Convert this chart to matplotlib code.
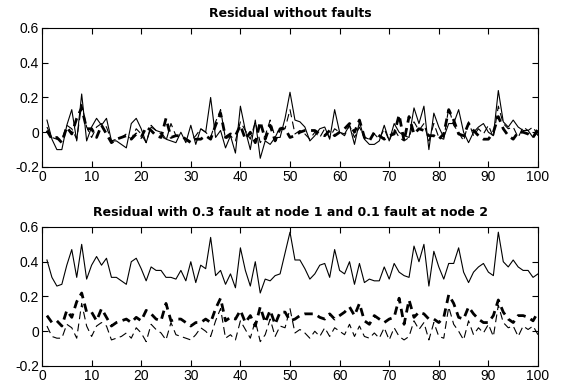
import numpy as np
import matplotlib
matplotlib.use("Agg")
import matplotlib.pyplot as plt
from matplotlib.ticker import FuncFormatter

plt.rcParams['font.family'] = ['Liberation Sans', 'DejaVu Sans']
plt.rcParams['axes.unicode_minus'] = False

x = np.arange(1, 101)

# residuals without faults
r1_ok = [0.07, -0.04, -0.10, -0.10, 0.04, 0.13, -0.05, 0.22, -0.05, 0.03,
         0.08, 0.04, 0.08, -0.05, -0.05, -0.07, -0.09, 0.05, 0.08, 0.02,
         -0.06, 0.03, 0.01, 0.00, -0.04, -0.05, -0.06, 0.00, -0.06, 0.04,
         -0.07, 0.02, 0.00, 0.20, -0.03, 0.01, -0.09, -0.02, -0.12, 0.15,
         0.01, -0.10, 0.07, -0.15, -0.05, -0.07, -0.03, -0.03, 0.08, 0.23,
         0.07, 0.06, 0.03, -0.05, -0.02, 0.02, 0.03, -0.04, 0.13, 0.00,
         -0.01, 0.04, -0.07, 0.06, -0.04, -0.07, -0.07, -0.05, 0.04, -0.05,
         0.05, 0.00, -0.02, -0.03, 0.14, 0.05, 0.15, -0.10, 0.11, 0.03,
         -0.03, 0.05, 0.05, 0.13, 0.00, -0.06, 0.00, 0.03, 0.05, 0.00,
         -0.02, 0.24, 0.06, 0.03, 0.07, 0.03, 0.01, 0.01, -0.03, 0.00]
r2_ok = [0.01, -0.04, -0.03, -0.06, 0.03, -0.01, 0.08, 0.14, 0.02, 0.02,
         -0.03, 0.04, -0.01, -0.06, -0.04, -0.03, -0.02, -0.04, -0.01, -0.03,
         0.03, 0.01, -0.02, -0.03, 0.08, -0.03, -0.02, -0.02, -0.04, -0.06,
         -0.04, -0.04, -0.02, -0.04, 0.04, 0.11, -0.03, -0.01, -0.02, 0.04,
         -0.04, 0.00, -0.06, 0.06, -0.04, 0.04, -0.05, 0.02, 0.02, -0.03,
         -0.02, 0.00, 0.01, 0.01, 0.01, -0.01, -0.02, 0.01, -0.02, 0.00,
         0.02, 0.05, 0.00, 0.07, -0.03, -0.05, 0.00, -0.02, -0.04, -0.02,
         -0.01, 0.10, -0.05, 0.09, -0.01, 0.02, 0.01, -0.02, -0.02, -0.04,
         -0.01, 0.13, 0.07, -0.01, -0.02, 0.05, 0.01, -0.02, -0.04, -0.04,
         0.00, 0.09, 0.02, -0.02, -0.04, 0.00, 0.00, -0.01, -0.03, 0.02]
r3 = [0.03, -0.03, -0.04, -0.04, 0.04, 0.02, -0.04, 0.16, 0.03, -0.03,
      0.03, 0.05, 0.03, -0.05, -0.04, -0.03, -0.01, -0.04, 0.02, -0.01,
      -0.06, 0.04, 0.01, -0.01, -0.05, 0.05, -0.02, -0.03, -0.04, -0.05,
      -0.02, 0.02, 0.00, -0.03, 0.06, 0.13, -0.04, -0.02, -0.05, 0.06,
      0.01, -0.04, 0.06, -0.06, -0.02, 0.07, -0.03, 0.03, 0.02, 0.13,
      -0.01, 0.01, -0.01, -0.04, 0.00, -0.03, 0.02, -0.03, 0.02, 0.00,
      -0.02, 0.04, -0.03, 0.03, -0.03, -0.04, -0.01, -0.04, 0.02, -0.05,
      0.02, -0.03, -0.05, -0.03, 0.06, 0.01, 0.05, -0.05, 0.05, -0.03,
      -0.04, 0.14, 0.04, 0.00, -0.05, 0.06, -0.02, 0.02, -0.01, 0.04,
      -0.03, 0.15, 0.05, 0.02, 0.03, -0.03, 0.03, 0.01, 0.03, -0.02]

# residuals with faults at node 1 and node 2
r1_f = [0.41, 0.31, 0.26, 0.27, 0.38, 0.47, 0.31, 0.50, 0.30, 0.38,
        0.43, 0.38, 0.42, 0.31, 0.31, 0.29, 0.27, 0.40, 0.42, 0.36,
        0.29, 0.37, 0.35, 0.35, 0.31, 0.31, 0.30, 0.35, 0.29, 0.40,
        0.28, 0.38, 0.36, 0.54, 0.32, 0.35, 0.27, 0.33, 0.25, 0.48,
        0.35, 0.26, 0.40, 0.22, 0.30, 0.29, 0.32, 0.33, 0.45, 0.57,
        0.41, 0.41, 0.36, 0.30, 0.33, 0.38, 0.39, 0.31, 0.47, 0.35,
        0.33, 0.40, 0.27, 0.39, 0.28, 0.30, 0.29, 0.29, 0.37, 0.30,
        0.39, 0.34, 0.32, 0.31, 0.49, 0.40, 0.50, 0.26, 0.46, 0.37,
        0.30, 0.39, 0.39, 0.48, 0.34, 0.28, 0.34, 0.37, 0.39, 0.34,
        0.32, 0.57, 0.40, 0.37, 0.41, 0.37, 0.35, 0.35, 0.31, 0.33]
r2_f = [0.09, 0.05, 0.06, 0.03, 0.12, 0.08, 0.17, 0.22, 0.11, 0.11,
        0.06, 0.13, 0.08, 0.03, 0.05, 0.06, 0.07, 0.05, 0.08, 0.06,
        0.12, 0.10, 0.07, 0.06, 0.16, 0.06, 0.07, 0.07, 0.05, 0.03,
        0.05, 0.05, 0.07, 0.05, 0.13, 0.19, 0.06, 0.08, 0.07, 0.12,
        0.05, 0.09, 0.03, 0.14, 0.05, 0.12, 0.04, 0.11, 0.11, 0.06,
        0.07, 0.09, 0.10, 0.10, 0.10, 0.08, 0.07, 0.10, 0.07, 0.09,
        0.11, 0.14, 0.09, 0.16, 0.06, 0.04, 0.09, 0.07, 0.05, 0.07,
        0.08, 0.19, 0.04, 0.18, 0.08, 0.11, 0.10, 0.07, 0.07, 0.05,
        0.08, 0.21, 0.16, 0.08, 0.07, 0.14, 0.10, 0.07, 0.05, 0.05,
        0.09, 0.18, 0.11, 0.07, 0.05, 0.09, 0.09, 0.08, 0.06, 0.11]

titles = ['Residual without faults',
          'Residual with 0.3 fault at node 1 and 0.1 fault at node 2']

fig = plt.figure(figsize=(5.63, 3.83), dpi=100)
ax1 = fig.add_axes([0.0746, 0.564, 0.881, 0.363])
ax2 = fig.add_axes([0.0746, 0.0444, 0.881, 0.363])

fmt = FuncFormatter(lambda v, p: '%g' % round(v, 2))
for ax, s1, s2, title in [(ax1, r1_ok, r2_ok, titles[0]),
                          (ax2, r1_f, r2_f, titles[1])]:
    ax.plot(x, s1, color='black', lw=0.8)
    ax.plot(x, r3, color='black', lw=0.8, dashes=(7, 4))
    ax.plot(x, s2, color='black', lw=2.0, dashes=(3, 2))
    ax.set_xlim(0, 100)
    ax.set_ylim(-0.2, 0.6)
    ax.set_xticks(np.arange(0, 101, 10))
    ax.set_yticks([-0.2, 0, 0.2, 0.4, 0.6])
    ax.yaxis.set_major_formatter(fmt)
    ax.tick_params(direction='in', top=True, right=True, labelsize=10,
                   length=4, pad=2)
    ax.set_title(title, fontsize=9, fontweight='bold', pad=8,
                 family='DejaVu Sans')
    for sp in ax.spines.values():
        sp.set_linewidth(0.8)

fig.savefig('out.png', dpi=100)
